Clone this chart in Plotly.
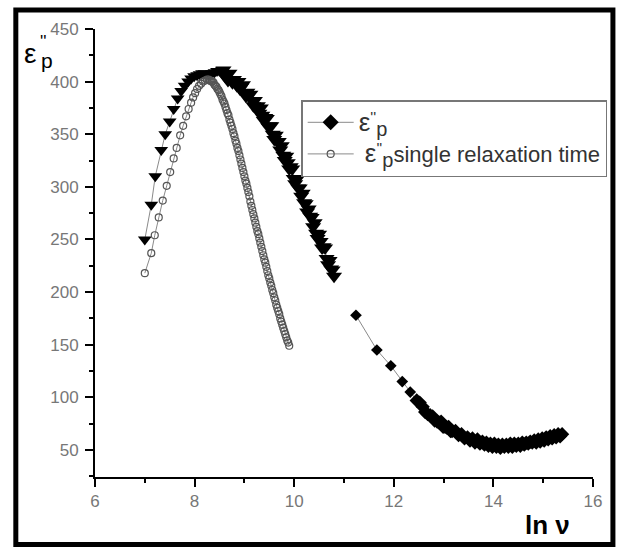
import plotly.graph_objects as go

# ---------------- data ----------------
# measured eps''_p : high-frequency part (diamonds)
meas_hi_x = [11.24, 11.66, 11.94, 12.17, 12.33, 12.46, 12.52, 12.58, 12.63, 12.68,
             12.73, 12.78, 12.82, 12.87, 12.91, 12.95, 12.99, 13.03, 13.07, 13.10,
             13.14, 13.17, 13.24, 13.30, 13.36, 13.42, 13.48, 13.53,
             13.58, 13.63, 13.68, 13.73, 13.78, 13.82, 13.86, 13.90, 13.94, 13.98,
             14.02, 14.06, 14.10, 14.14, 14.18, 14.22, 14.26, 14.30, 14.34, 14.38,
             14.42, 14.46, 14.50, 14.54, 14.58, 14.62, 14.66, 14.70, 14.74, 14.78,
             14.82, 14.86, 14.90, 14.94, 14.98, 15.02, 15.06, 15.10, 15.14, 15.18,
             15.22, 15.26, 15.30, 15.34, 15.38]
meas_hi_y = [178, 145, 130, 115, 105, 97, 95, 91, 86, 84,
             83, 82, 78, 77, 76, 77, 72, 72, 71, 72,
             68, 68, 68, 64, 65, 61, 62, 59,
             61, 57, 60, 56, 58, 55, 57, 54, 56, 53,
             56, 53, 55, 52, 55, 53, 55, 53, 56, 53,
             56, 54, 56, 54, 57, 55, 57, 56, 58, 57,
             59, 57, 60, 58, 61, 59, 62, 60, 63, 61,
             64, 62, 65, 63, 65]

# measured eps''_p : low-frequency part (dense, triangle-like markers)
meas_lo_x = [7.00, 7.13, 7.21, 7.33, 7.41, 7.50, 7.58, 7.66, 7.73, 7.80,
             7.87, 7.93, 7.99, 8.05, 8.10, 8.15, 8.20, 8.25, 8.30, 8.35,
             8.40, 8.45, 8.50, 8.55,
             8.58, 8.61, 8.64, 8.67, 8.70, 8.73, 8.76, 8.79, 8.82, 8.85,
             8.88, 8.91, 8.94, 8.97, 9.00, 9.03, 9.06, 9.09, 9.12, 9.15,
             9.18, 9.21, 9.24, 9.27, 9.30, 9.33, 9.36, 9.39, 9.42, 9.45,
             9.48, 9.51, 9.54, 9.57, 9.60, 9.63, 9.66, 9.69, 9.72, 9.75,
             9.78, 9.81, 9.84, 9.87, 9.90, 9.93, 9.96, 9.99, 10.02, 10.05,
             10.08, 10.11, 10.14, 10.17, 10.20, 10.23, 10.26, 10.29, 10.32, 10.35,
             10.38, 10.41, 10.44, 10.47, 10.50, 10.53, 10.56, 10.59, 10.62, 10.65,
             10.68, 10.71, 10.74, 10.77, 10.80]
meas_lo_y = [250, 283, 310, 335, 350, 362, 374, 384, 391, 396,
             400, 403, 405, 406, 407, 408, 408, 407, 407, 408,
             409, 410, 410, 411,
             411, 405, 407, 401, 408, 402, 399, 402, 399, 396,
             400, 393, 395, 397, 389, 386, 390, 387, 388, 382,
             377, 382, 375, 377, 370, 375, 368, 363, 366, 365,
             357, 358, 358, 350, 345, 349, 343, 343, 335, 339,
             330, 325, 329, 323, 317, 319, 317, 308, 303, 307,
             299, 299, 291, 294, 285, 284, 276, 279, 272, 271,
             262, 266, 256, 251, 255, 248, 242, 243, 242, 232,
             226, 230, 222, 221, 215]

# single relaxation time (Debye) curve
srt_x = [7.00, 7.13, 7.20, 7.28, 7.36, 7.44, 7.51, 7.58, 7.64, 7.71,
         7.77, 7.83, 7.88, 7.93, 7.97, 8.01, 8.05, 8.09, 8.13, 8.17,
         8.21, 8.25, 8.28,
         8.30, 8.32, 8.34, 8.36, 8.38, 8.40, 8.42, 8.44, 8.46, 8.48,
         8.50, 8.52, 8.54, 8.56, 8.58, 8.60, 8.62, 8.64, 8.66, 8.68,
         8.70, 8.72, 8.74, 8.76, 8.78, 8.80, 8.82, 8.84, 8.86, 8.88,
         8.90, 8.92, 8.94, 8.96, 8.98, 9.00, 9.02, 9.04, 9.06, 9.08,
         9.10, 9.12, 9.14, 9.16, 9.18, 9.20, 9.22, 9.24, 9.26, 9.28,
         9.30, 9.32, 9.34, 9.36, 9.38, 9.40, 9.42, 9.44, 9.46, 9.48,
         9.50, 9.52, 9.54, 9.56, 9.58, 9.60, 9.62, 9.64, 9.66, 9.68,
         9.70, 9.72, 9.74, 9.76, 9.78, 9.80, 9.82, 9.84, 9.86, 9.88, 9.90]
srt_y = [218, 237, 254, 271, 287, 301, 314, 327, 337, 349,
         358, 367, 374, 380, 385, 389, 393, 396, 398, 400,
         401, 402, 402,
         401, 401, 400, 400, 399, 397, 396, 395, 393, 392,
         390, 388, 386, 383, 381, 379, 376, 373, 370, 368,
         364, 361, 358, 355, 351, 348, 344, 341, 337, 334,
         330, 326, 322, 318, 314, 310, 306, 303, 299, 295,
         291, 286, 282, 278, 274, 270, 266, 262, 258, 255,
         251, 247, 243, 239, 235, 231, 228, 224, 220, 216,
         213, 209, 206, 202, 199, 195, 192, 188, 185, 182,
         179, 175, 172, 169, 166, 163, 160, 157, 154, 152, 149]

x_ticks = [6, 8, 10, 12, 14, 16]
y_ticks = [50, 100, 150, 200, 250, 300, 350, 400, 450]

# ---------------- figure ----------------
W, H = 619, 547
ML, MR, MT, MB = 95, 24, 29, 70


def pxx(x):
    return (x - ML) / (W - ML - MR)


def pyy(y):
    return (H - MB - y) / (H - MT - MB)


FONT = "Liberation Sans, Arial, sans-serif"

n_hi, n_lo = len(meas_hi_x), len(meas_lo_x)
meas_x = meas_hi_x + [None] + meas_lo_x
meas_y = meas_hi_y + [None] + meas_lo_y
meas_sym = ["diamond"] * (n_hi + 1) + ["triangle-down"] * n_lo
meas_size = [9] * 5 + [11] * (n_hi - 5) + [11] + [12] * 24 + [14] * (n_lo - 24)

fig = go.Figure()
fig.add_trace(go.Scatter(
    x=meas_x, y=meas_y, mode="lines+markers",
    name=("<span style='font-size:26px'>ε</span><sup>''</sup>"
          "<sub><span style='font-size:20px'>p</span></sub>"),
    line=dict(color="#8a8a8a", width=1),
    marker=dict(symbol=meas_sym, size=meas_size, color="black", opacity=1,
                line=dict(width=0)),
    connectgaps=False,
))
fig.add_trace(go.Scatter(
    x=srt_x, y=srt_y, mode="lines+markers",
    name=(" <span style='font-size:26px'>ε</span><sup>''</sup>"
          "<sub><span style='font-size:20px'>p</span></sub>single relaxation time"),
    line=dict(color="#8a8a8a", width=1),
    marker=dict(symbol="circle-open", size=7, color="#555555", opacity=1,
                line=dict(width=1.2)),
))

axis_common = dict(
    showline=True, linecolor="black", linewidth=2,
    ticks="outside", ticklen=8, tickwidth=2, tickcolor="black",
    showgrid=False, zeroline=False, mirror=False,
    tickfont=dict(family=FONT, size=17, color="#777777"),
)

fig.update_xaxes(range=[6, 16], tickvals=x_ticks, ticklabelstandoff=0,
                 minor=dict(dtick=1, tick0=6, ticks="outside", ticklen=4,
                            tickwidth=2, tickcolor="black", showgrid=False),
                 **axis_common)
fig.update_yaxes(range=[24.3, 450], tickvals=y_ticks, ticklabelstandoff=3,
                 minor=dict(dtick=25, tick0=25, ticks="outside", ticklen=4,
                            tickwidth=2, tickcolor="black", showgrid=False),
                 **axis_common)

fig.update_layout(
    width=W, height=H,
    margin=dict(l=ML, r=MR, t=MT, b=MB, pad=0),
    paper_bgcolor="white", plot_bgcolor="white",
    font=dict(family=FONT, color="black"),
    showlegend=True,
    legend=dict(
        x=pxx(302), y=pyy(100), xanchor="left", yanchor="top",
        bgcolor="white", bordercolor="#777777", borderwidth=1.5,
        font=dict(family=FONT, size=22, color="#333333"),
        tracegroupgap=0, itemwidth=46,
    ),
    shapes=[dict(type="rect", xref="paper", yref="paper",
                 x0=pxx(15.5), x1=pxx(615), y0=pyy(544.5), y1=pyy(10),
                 line=dict(color="black", width=5), fillcolor="rgba(0,0,0,0)",
                 layer="above")],
    annotations=[
        dict(text="ε", x=pxx(30), y=pyy(53), xref="paper", yref="paper",
             showarrow=False, xanchor="center", yanchor="middle",
             font=dict(family=FONT, size=28, color="black")),
        dict(text="''", x=pxx(43), y=pyy(41), xref="paper", yref="paper",
             showarrow=False, xanchor="center", yanchor="middle",
             font=dict(family=FONT, size=17, color="black")),
        dict(text="p", x=pxx(46.5), y=pyy(60), xref="paper", yref="paper",
             showarrow=False, xanchor="center", yanchor="middle",
             font=dict(family=FONT, size=21, color="black")),
        dict(text="<b>ln ν</b>", x=pxx(549), y=pyy(525), xref="paper", yref="paper",
             showarrow=False, xanchor="center", yanchor="middle",
             font=dict(family=FONT, size=26, color="black")),
    ],
)

fig.write_html("out.html", config={"displayModeBar": False},
               post_script="document.body.style.margin='0px';")
